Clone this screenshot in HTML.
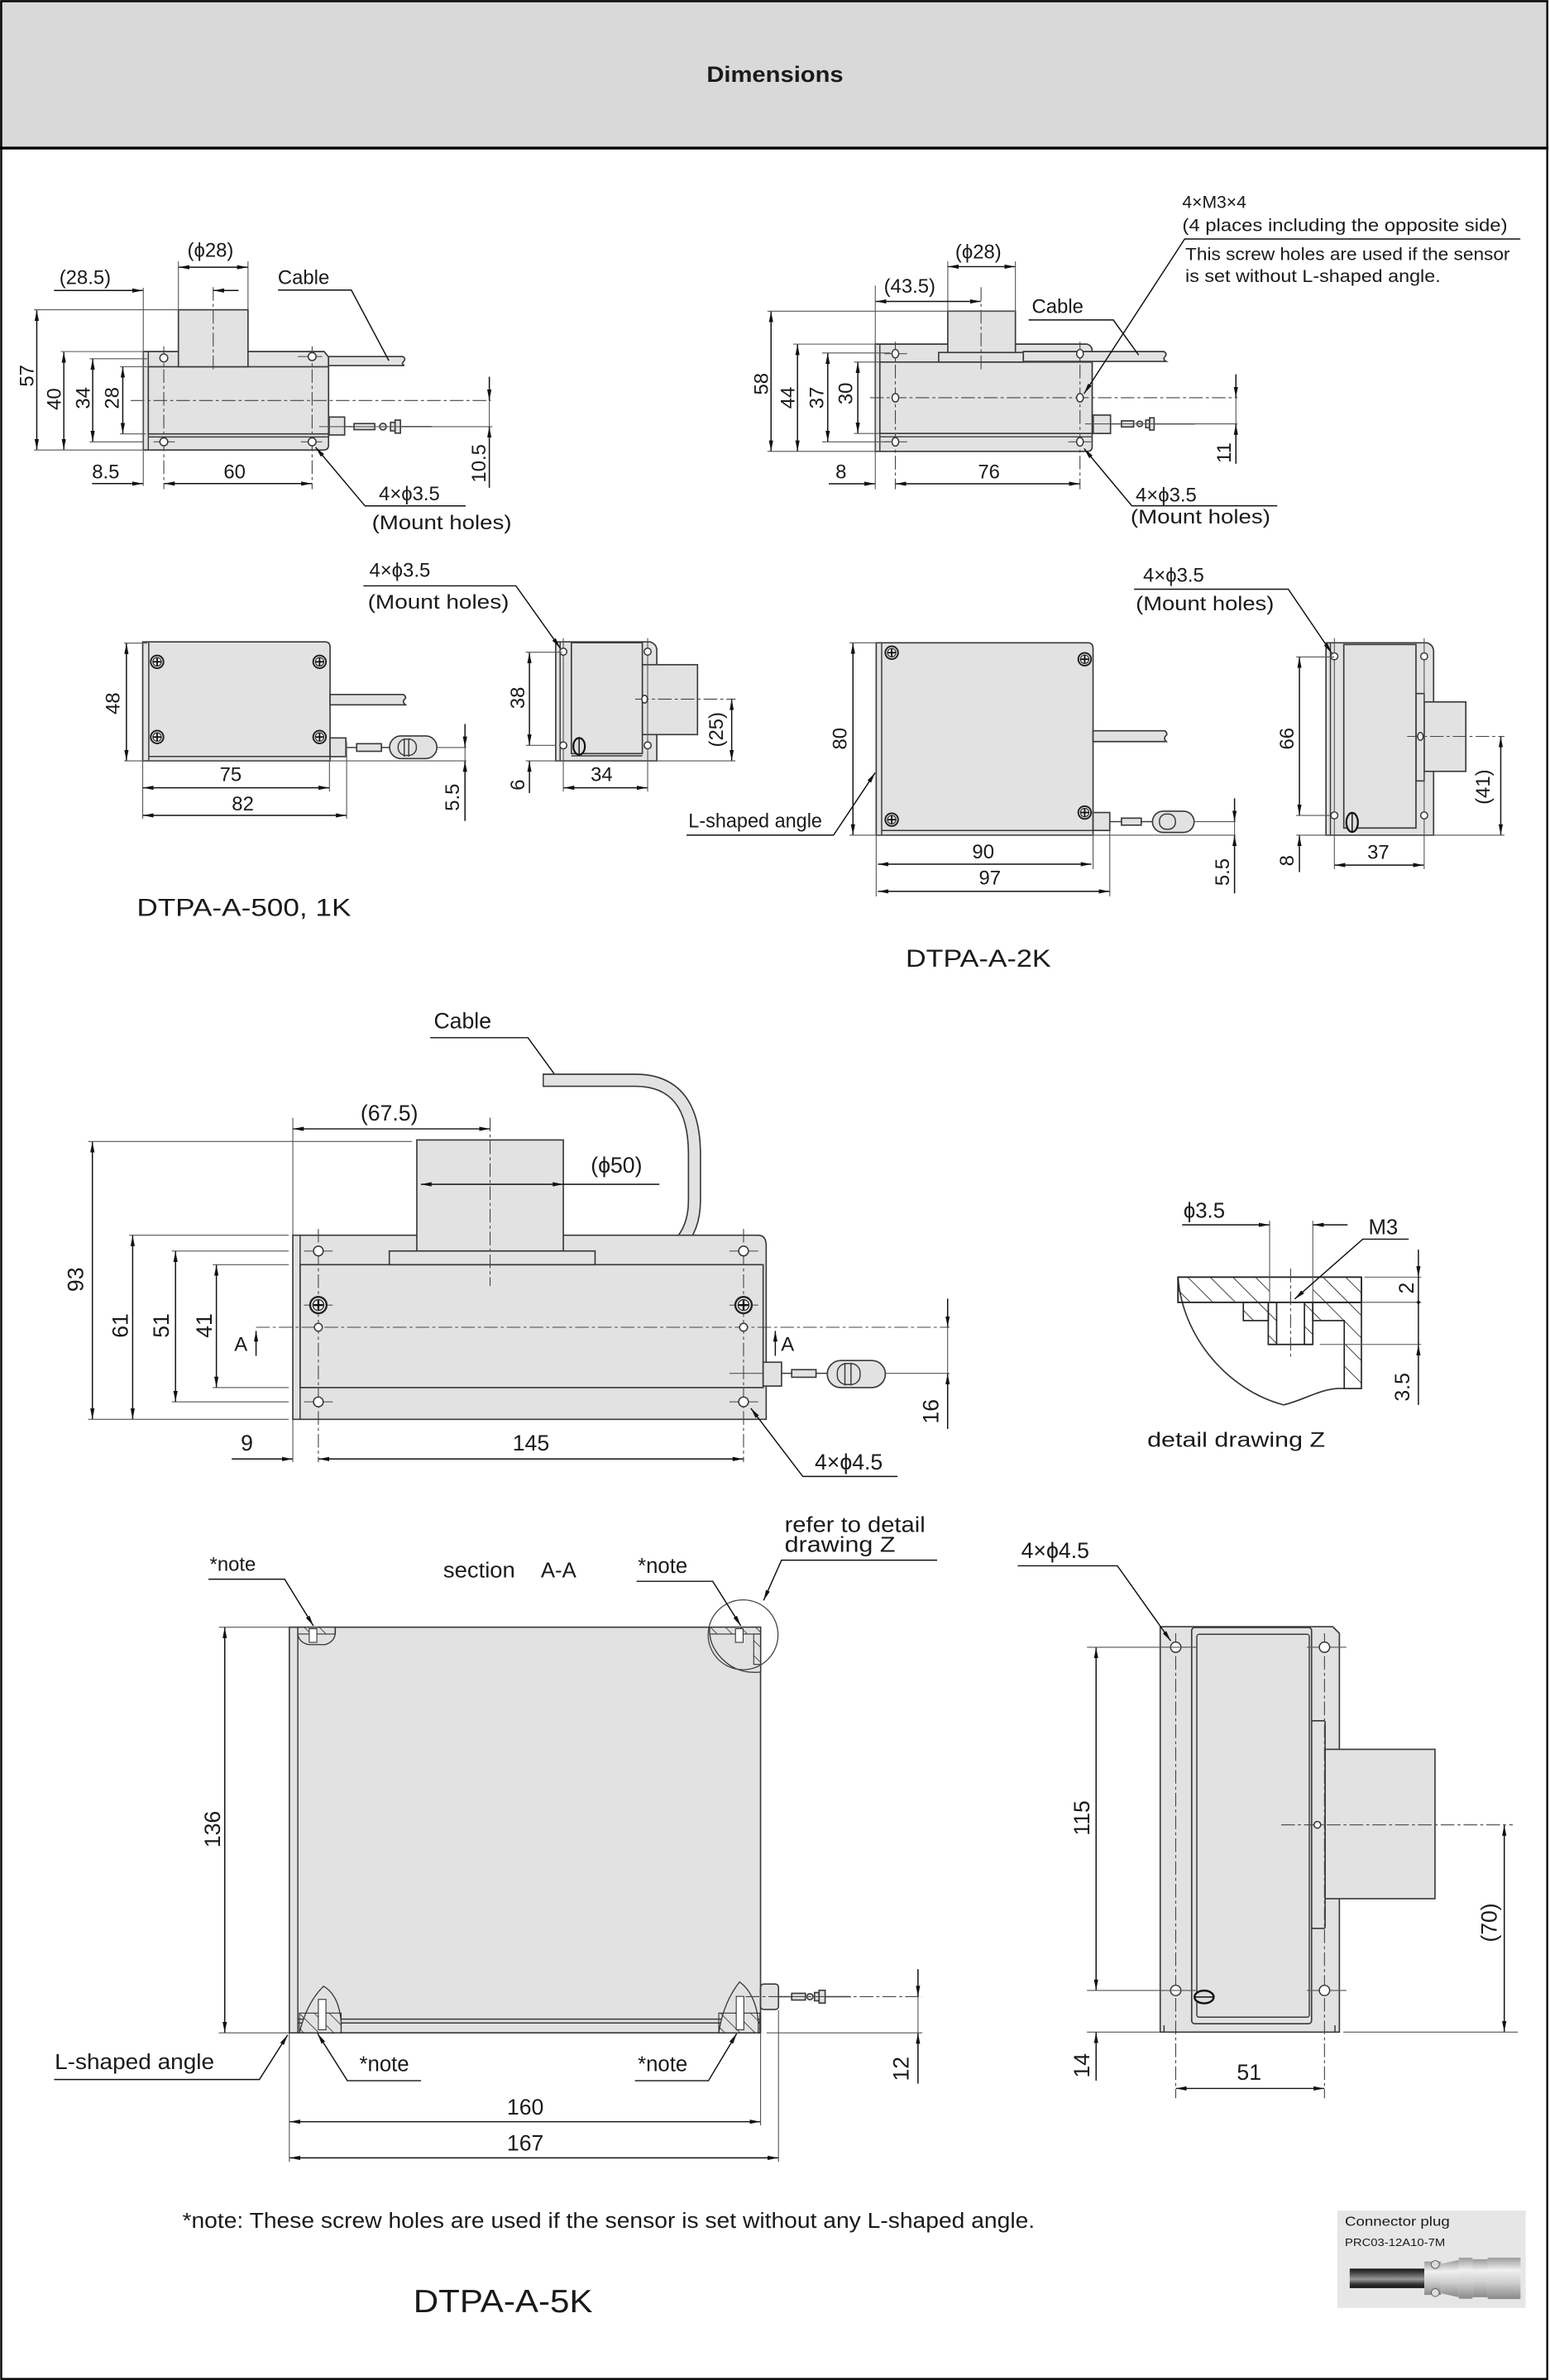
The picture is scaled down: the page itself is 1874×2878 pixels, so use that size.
<!DOCTYPE html>
<html><head><meta charset="utf-8"><style>
html,body{margin:0;padding:0;background:#fff}
svg{display:block}
</style></head><body>
<svg xmlns="http://www.w3.org/2000/svg" width="1874" height="2878" viewBox="0 0 1020 1566.5" preserveAspectRatio="none">
<defs>
<marker id="a" viewBox="0 0 10 4" refX="10" refY="2" markerWidth="7" markerHeight="2.8" markerUnits="userSpaceOnUse" orient="auto-start-reverse"><path d="M0,0 L10,2 L0,4 z" fill="#111"/></marker>
<pattern id="hp" width="7" height="7" patternUnits="userSpaceOnUse" patternTransform="rotate(-45)"><line x1="0" y1="0" x2="0" y2="7" stroke="#333" stroke-width="0.9"/></pattern>
<pattern id="hz" width="10.5" height="10.5" patternUnits="userSpaceOnUse" patternTransform="rotate(-45)"><line x1="0" y1="0" x2="0" y2="10.5" stroke="#333" stroke-width="1"/></pattern>
<g id="scr"><circle r="4.2" fill="#f4f4f4" stroke="#222" stroke-width="1.1"/><circle r="2.8" fill="none" stroke="#222" stroke-width="0.6"/><line x1="-2.6" y1="0" x2="2.6" y2="0" stroke="#111" stroke-width="1"/><line x1="0" y1="-2.6" x2="0" y2="2.6" stroke="#111" stroke-width="1"/></g>
<g id="scr2"><circle r="5.4" fill="#f4f4f4" stroke="#222" stroke-width="1.3"/><circle r="3.6" fill="none" stroke="#222" stroke-width="0.7"/><line x1="-3.2" y1="0" x2="3.2" y2="0" stroke="#111" stroke-width="1.3"/><line x1="0" y1="-3.2" x2="0" y2="3.2" stroke="#111" stroke-width="1.3"/></g>
<linearGradient id="gc" x1="0" y1="0" x2="0" y2="1"><stop offset="0" stop-color="#111"/><stop offset=".35" stop-color="#666"/><stop offset=".55" stop-color="#999"/><stop offset=".8" stop-color="#333"/><stop offset="1" stop-color="#111"/></linearGradient>
<linearGradient id="gm" x1="0" y1="0" x2="0" y2="1"><stop offset="0" stop-color="#9a9a9a"/><stop offset=".3" stop-color="#f0f0f0"/><stop offset=".6" stop-color="#cfcfcf"/><stop offset="1" stop-color="#8a8a8a"/></linearGradient>
</defs>
<style>
.o{fill:#e2e2e2;stroke:#3a3a3a;stroke-width:.9}
.l{fill:none;stroke:#3a3a3a;stroke-width:.8}
.e{fill:none;stroke:#555;stroke-width:.6}
.d{fill:none;stroke:#111;stroke-width:.8}
.c{fill:none;stroke:#444;stroke-width:.6;stroke-dasharray:9 2 2 2}
.h{fill:#fff;stroke:#333;stroke-width:.8}
.ae{marker-end:url(#a)}
.ab{marker-start:url(#a);marker-end:url(#a)}
text{font-family:"Liberation Sans",sans-serif;fill:#1a1a1a}
.t{font-size:13px}
.u{font-size:14.5px}
.m{text-anchor:middle;dominant-baseline:central}
.s{dominant-baseline:central}
</style>

<!-- frame & header -->
<rect x="0.8" y="0.8" width="1017.4" height="1565" fill="#fff" stroke="#000" stroke-width="1.3"/>
<rect x="0.8" y="0.8" width="1017.4" height="96.4" fill="#d9d9d9" stroke="#000" stroke-width="1.3"/>
<line x1="0" y1="97.5" x2="1019" y2="97.5" stroke="#000" stroke-width="1.8"/>
<text x="510" y="49" class="m" font-weight="bold" font-size="14.5" textLength="90" lengthAdjust="spacingAndGlyphs">Dimensions</text>

<!-- ===== 1K front ===== -->
<path class="o" d="M94.3,231.4 H213.3 L216.2,235 V293 Q216.2,296.2 213,296.2 H94.3 Z"/>
<line class="l" x1="97.6" y1="231.4" x2="97.6" y2="296.2"/>
<rect class="o" x="97.6" y="241.4" width="118.6" height="44.2"/>
<line class="l" x1="97.6" y1="287.6" x2="216.2" y2="287.6"/>
<rect class="o" x="117.4" y="203.9" width="45.8" height="37.5"/>
<path class="o" d="M216.2,234.7 H265 Q267.5,236 265.5,238 Q264,239.6 266,240.6 H216.2 Z"/>
<line class="c" x1="107.8" y1="228" x2="107.8" y2="322"/>
<line class="c" x1="205.4" y1="228" x2="205.4" y2="322"/>
<line class="c" x1="140.3" y1="189" x2="140.3" y2="245"/>
<line class="c" x1="86" y1="263.6" x2="323" y2="263.6"/>
<line class="e" x1="101" y1="290.8" x2="115" y2="290.8"/><line class="e" x1="198" y1="290.8" x2="212" y2="290.8"/>
<line class="e" x1="196" y1="234.7" x2="212" y2="234.7"/>
<circle class="h" cx="107.8" cy="235.6" r="2.6"/><circle class="h" cx="205.4" cy="234.7" r="2.6"/>
<circle class="h" cx="107.8" cy="290.8" r="2.6"/><circle class="h" cx="205.4" cy="290.8" r="2.6"/>
<rect class="o" x="216.6" y="274.5" width="10.2" height="11.8"/>
<line class="l" x1="226.8" y1="280.8" x2="233" y2="280.8"/>
<rect class="o" x="233" y="278.8" width="13.6" height="4"/>
<circle class="o" cx="252" cy="280.8" r="2.2"/>
<rect class="o" x="257" y="278" width="3" height="5.6"/><rect class="o" x="260" y="276.5" width="3.5" height="8.6"/>
<line class="l" x1="263.5" y1="280.8" x2="284" y2="280.8"/>
<line class="e" x1="210" y1="280.8" x2="324" y2="280.8"/>
<!-- dims -->
<line class="e" x1="22.4" y1="203.9" x2="117.4" y2="203.9"/>
<line class="e" x1="22.4" y1="296.2" x2="94.3" y2="296.2"/>
<line class="e" x1="40" y1="231.4" x2="94.3" y2="231.4"/>
<line class="e" x1="59" y1="236.1" x2="97" y2="236.1"/>
<line class="e" x1="59" y1="290.8" x2="94.3" y2="290.8"/>
<line class="e" x1="79" y1="241.4" x2="97.6" y2="241.4"/>
<line class="e" x1="79" y1="285.6" x2="96" y2="285.6"/>
<line class="d ab" x1="24.2" y1="204.2" x2="24.2" y2="295.9"/>
<line class="d ab" x1="42" y1="231.7" x2="42" y2="295.9"/>
<line class="d ab" x1="61" y1="236.3" x2="61" y2="290.6"/>
<line class="d ab" x1="80.8" y1="241.6" x2="80.8" y2="285.4"/>
<text class="t m" transform="translate(18,247.3) rotate(-90)">57</text>
<text class="t m" transform="translate(36,262.7) rotate(-90)">40</text>
<text class="t m" transform="translate(55,262) rotate(-90)">34</text>
<text class="t m" transform="translate(74,262) rotate(-90)">28</text>
<line class="e" x1="117.4" y1="172" x2="117.4" y2="204"/>
<line class="e" x1="163.2" y1="172" x2="163.2" y2="204"/>
<line class="d ab" x1="117.6" y1="175.9" x2="163" y2="175.9"/>
<text class="t m" x="138.5" y="165">(ϕ28)</text>
<line class="e" x1="94.3" y1="189.4" x2="94.3" y2="319.8"/>
<line class="d ae" x1="35.5" y1="191.2" x2="94" y2="191.2"/>
<line class="d ae" x1="157" y1="191.2" x2="140.5" y2="191.2"/>
<text class="t m" x="56" y="183">(28.5)</text>
<polyline class="d" points="255.9,237.4 231.2,190.9 183,190.9"/>
<text class="t m" x="199.8" y="183">Cable</text>
<line class="d ae" x1="60.6" y1="318.3" x2="94" y2="318.3"/>
<line class="d ab" x1="108" y1="318.3" x2="205.2" y2="318.3"/>
<text class="t m" x="69.6" y="310.7">8.5</text>
<text class="t m" x="154.4" y="310.7">60</text>
<polyline class="d ae" points="306.4,333 240.2,333 207.7,294.4"/>
<text class="t m" x="269.4" y="325.2">4×ϕ3.5</text>
<text class="t m" x="290.7" y="344.2" textLength="92" lengthAdjust="spacingAndGlyphs">(Mount holes)</text>
<line class="e" x1="322" y1="248" x2="322" y2="321"/>
<line class="d ae" x1="322" y1="248" x2="322" y2="263.4"/>
<line class="d ae" x1="322" y1="321" x2="322" y2="281"/>
<text class="t m" transform="translate(315.4,305) rotate(-90)">10.5</text>

<!-- ===== 2K front ===== -->
<path class="o" d="M576,226.5 H715.5 Q718.7,227.5 718.7,231 V294 Q718.7,297.1 715.5,297.1 H576 Z"/>
<line class="l" x1="579" y1="226.5" x2="579" y2="297.1"/>
<rect class="o" x="579" y="238.3" width="139.7" height="47"/>
<line class="l" x1="579" y1="287.5" x2="718.7" y2="287.5"/>
<path class="o" d="M673.4,231.4 H766 Q768.5,233 766.5,234.8 Q765,236.5 767.4,237.9 H673.4 Z"/>
<rect class="o" x="617.7" y="232" width="55.7" height="6.3"/>
<rect class="o" x="623.7" y="204.8" width="44.5" height="27.2"/>
<line class="c" x1="589.2" y1="225" x2="589.2" y2="322"/>
<line class="c" x1="710.7" y1="225" x2="710.7" y2="322"/>
<line class="c" x1="645.6" y1="189" x2="645.6" y2="245"/>
<line class="c" x1="572.5" y1="261.8" x2="814.4" y2="261.8"/>
<line class="e" x1="582" y1="232.8" x2="597" y2="232.8"/><line class="e" x1="582" y1="290.8" x2="597" y2="290.8"/>
<line class="e" x1="703" y1="290.8" x2="718" y2="290.8"/>
<ellipse class="h" cx="589.2" cy="232.8" rx="2.2" ry="2.8"/><ellipse class="h" cx="710.7" cy="232.8" rx="2.2" ry="2.8"/>
<ellipse class="h" cx="589.2" cy="261.8" rx="2.2" ry="2.8"/><ellipse class="h" cx="710.7" cy="261.8" rx="2.2" ry="2.8"/>
<ellipse class="h" cx="589.2" cy="290.8" rx="2.2" ry="2.8"/><ellipse class="h" cx="710.7" cy="290.8" rx="2.2" ry="2.8"/>
<rect class="o" x="719.4" y="273.2" width="11.4" height="12.1"/>
<line class="l" x1="730.8" y1="279" x2="738" y2="279"/>
<rect class="o" x="738" y="277" width="8" height="4"/>
<circle class="o" cx="750" cy="279" r="1.8"/>
<rect class="o" x="754" y="276.5" width="2.5" height="5"/><rect class="o" x="756.5" y="275" width="3" height="8"/>
<line class="l" x1="759.5" y1="279" x2="786.5" y2="279"/>
<line class="e" x1="714" y1="279" x2="814.4" y2="279"/>
<line class="e" x1="505" y1="204.8" x2="668" y2="204.8"/>
<line class="e" x1="505" y1="297.1" x2="576" y2="297.1"/>
<line class="e" x1="522" y1="226.5" x2="576" y2="226.5"/>
<line class="e" x1="541" y1="232.3" x2="586" y2="232.3"/>
<line class="e" x1="541" y1="290.8" x2="586" y2="290.8"/>
<line class="e" x1="562" y1="238.3" x2="579" y2="238.3"/>
<line class="e" x1="562" y1="285.3" x2="579" y2="285.3"/>
<line class="d ab" x1="507.4" y1="205" x2="507.4" y2="296.9"/>
<line class="d ab" x1="524.8" y1="226.7" x2="524.8" y2="296.9"/>
<line class="d ab" x1="544.7" y1="232.5" x2="544.7" y2="290.6"/>
<line class="d ab" x1="564.5" y1="238.5" x2="564.5" y2="285.1"/>
<text class="t m" transform="translate(501.2,252.7) rotate(-90)">58</text>
<text class="t m" transform="translate(518.6,261.8) rotate(-90)">44</text>
<text class="t m" transform="translate(537.7,261.8) rotate(-90)">37</text>
<text class="t m" transform="translate(556.8,259) rotate(-90)">30</text>
<line class="e" x1="623.7" y1="172" x2="623.7" y2="205"/>
<line class="e" x1="668.2" y1="172" x2="668.2" y2="205"/>
<line class="d ab" x1="623.9" y1="175.5" x2="668" y2="175.5"/>
<text class="t m" x="643.8" y="165.9">(ϕ28)</text>
<line class="e" x1="576" y1="188" x2="576" y2="322"/>
<line class="d ab" x1="576.3" y1="198.4" x2="645.4" y2="198.4"/>
<text class="t m" x="598.6" y="188.5">(43.5)</text>
<polyline class="d" points="749.3,233.7 732.6,210.6 676.9,210.6"/>
<text class="t m" x="696" y="202">Cable</text>
<line class="d ae" x1="545.4" y1="318.4" x2="575.8" y2="318.4"/>
<line class="d ab" x1="589.4" y1="318.4" x2="710.5" y2="318.4"/>
<text class="t m" x="553.4" y="310.7">8</text>
<text class="t m" x="650.8" y="310.7">76</text>
<line class="e" x1="813.3" y1="246.4" x2="813.3" y2="305.2"/>
<line class="d ae" x1="813.3" y1="246.4" x2="813.3" y2="261.6"/>
<line class="d ae" x1="813.3" y1="305.2" x2="813.3" y2="279.2"/>
<text class="t m" transform="translate(805.7,298) rotate(-90)">11</text>
<polyline class="d ae" points="840.5,332.9 744.8,332.9 713.4,295.3"/>
<text class="t m" x="767.4" y="326">4×ϕ3.5</text>
<text class="t m" x="790" y="340.5" textLength="92" lengthAdjust="spacingAndGlyphs">(Mount holes)</text>
<polyline class="d ae" points="1000.5,157.3 779.6,157.3 713.4,259.1"/>
<text class="s" x="778" y="133.3" font-size="11.5">4×M3×4</text>
<text class="s" x="778" y="148.7" font-size="11.5" textLength="214" lengthAdjust="spacingAndGlyphs">(4 places including the opposite side)</text>
<text class="s" x="780" y="167.7" font-size="11.5" textLength="213.6" lengthAdjust="spacingAndGlyphs">This screw holes are used if the sensor</text>
<text class="s" x="780" y="182.1" font-size="11.5" textLength="168" lengthAdjust="spacingAndGlyphs">is set without L-shaped angle.</text>

<!-- ===== 1K top ===== -->
<path class="o" d="M93.9,422.5 H214 Q217.2,422.5 217.2,426 V500.8 H93.9 Z"/>
<line class="l" x1="97.9" y1="422.5" x2="97.9" y2="500.8"/>
<line class="l" x1="97.9" y1="497.9" x2="217.2" y2="497.9"/>
<use href="#scr" x="103.4" y="435.6"/><use href="#scr" x="210.3" y="435.6"/>
<use href="#scr" x="103.4" y="485.1"/><use href="#scr" x="210.3" y="485.1"/>
<path class="o" d="M217.2,457.1 H265.5 Q268,459 266,460.5 Q264.5,462 266.8,463.9 H217.2 Z"/>
<rect class="o" x="217.2" y="485.7" width="10.4" height="12.3"/>
<line class="l" x1="227.6" y1="492" x2="234.7" y2="492"/>
<rect class="o" x="234.7" y="489.5" width="16.3" height="5"/>
<line class="l" x1="251" y1="492" x2="256.4" y2="492"/>
<rect class="o" x="256.4" y="484.4" width="31.1" height="14.9" rx="7.4"/>
<rect class="l" x="262" y="486.5" width="12" height="10.7" rx="5"/>
<line class="l" x1="266" y1="486" x2="266" y2="498"/><line class="l" x1="269" y1="486" x2="269" y2="498"/>
<line class="e" x1="287.5" y1="492" x2="306.9" y2="492"/>
<line class="e" x1="81.7" y1="500.8" x2="306.9" y2="500.8"/>
<line class="e" x1="81.7" y1="423.3" x2="97" y2="423.3"/>
<line class="d ab" x1="83.2" y1="423.5" x2="83.2" y2="500.6"/>
<text class="t m" transform="translate(74.6,463) rotate(-90)">48</text>
<line class="e" x1="93.9" y1="500.8" x2="93.9" y2="539"/>
<line class="e" x1="216.8" y1="500.8" x2="216.8" y2="521"/>
<line class="e" x1="228.1" y1="488" x2="228.1" y2="539"/>
<line class="d ab" x1="94.1" y1="518.5" x2="216.6" y2="518.5"/>
<line class="d ab" x1="94.1" y1="536.7" x2="227.9" y2="536.7"/>
<text class="t m" x="151.8" y="509.9">75</text>
<text class="t m" x="159.8" y="529.4">82</text>
<line class="e" x1="306" y1="476.6" x2="306" y2="540.3"/>
<line class="d ae" x1="306" y1="476.6" x2="306" y2="491.8"/>
<line class="d ae" x1="306" y1="540.3" x2="306" y2="501"/>
<text class="t m" transform="translate(298,524.8) rotate(-90)">5.5</text>

<!-- 1K side -->
<path class="o" d="M365.7,422.5 H428 Q432.2,424 432.2,428 V500.8 H365.7 Z"/>
<rect class="o" x="422.7" y="437.5" width="36.3" height="46"/>
<rect class="o" x="376" y="423" width="46.7" height="73"/>
<line class="l" x1="368.6" y1="422.5" x2="368.6" y2="500.8"/>
<line class="l" x1="376" y1="497.5" x2="422.7" y2="497.5"/>
<line class="c" x1="418" y1="460.2" x2="484" y2="460.2"/>
<line class="e" x1="370.7" y1="420" x2="370.7" y2="521"/>
<line class="e" x1="426.2" y1="420" x2="426.2" y2="521"/>
<circle class="h" cx="370.7" cy="428.9" r="2.3"/><circle class="h" cx="426.2" cy="428.9" r="2.3"/>
<circle class="h" cx="370.7" cy="490.6" r="2.3"/><circle class="h" cx="426.2" cy="490.6" r="2.3"/>
<ellipse class="h" cx="424.2" cy="460.2" rx="1.8" ry="2.6"/>
<ellipse cx="381.1" cy="491.2" rx="3.8" ry="5.5" fill="#ddd" stroke="#111" stroke-width="1.2"/>
<line x1="381.1" y1="485.5" x2="381.1" y2="497" stroke="#111" stroke-width=".8"/>
<line class="e" x1="346" y1="429.3" x2="370" y2="429.3"/>
<line class="e" x1="346" y1="490.6" x2="366" y2="490.6"/>
<line class="e" x1="346" y1="500.8" x2="484" y2="500.8"/>
<line class="d ab" x1="348.4" y1="429.5" x2="348.4" y2="490.4"/>
<text class="t m" transform="translate(341,459.3) rotate(-90)">38</text>
<line class="d ae" x1="348.4" y1="522" x2="348.4" y2="501"/>
<text class="t m" transform="translate(341,516.6) rotate(-90)">6</text>
<line class="d ab" x1="370.9" y1="518.5" x2="426" y2="518.5"/>
<text class="t m" x="395.9" y="509.9">34</text>
<line class="d ab" x1="481.5" y1="460.4" x2="481.5" y2="500.6"/>
<text class="t m" transform="translate(471.7,480.2) rotate(-90)">(25)</text>
<polyline class="d ae" points="239.1,385.6 339.5,385.6 368.6,426.5"/>
<text class="t s" x="243" y="375.6">4×ϕ3.5</text>
<text class="t s" x="242" y="396.5" textLength="93" lengthAdjust="spacingAndGlyphs">(Mount holes)</text>
<text class="s" x="90" y="597.6" font-size="16" textLength="141" lengthAdjust="spacingAndGlyphs">DTPA-A-500, 1K</text>

<!-- ===== 2K top ===== -->
<path class="o" d="M576.6,423.1 H716 Q719.3,423.1 719.3,427 V549.7 H576.6 Z"/>
<line class="l" x1="580.2" y1="423.1" x2="580.2" y2="549.7"/>
<line class="l" x1="580.2" y1="546.6" x2="719.3" y2="546.6"/>
<use href="#scr" x="586.8" y="429.6"/><use href="#scr" x="713.8" y="433.9"/>
<use href="#scr" x="586.8" y="539.5"/><use href="#scr" x="713.8" y="534.8"/>
<path class="o" d="M719.3,481 H766.5 Q769,483 767,484.5 Q765.5,486 767.5,488.1 H719.3 Z"/>
<rect class="o" x="719.3" y="534.8" width="11" height="11.8"/>
<line class="l" x1="730.3" y1="540.8" x2="738" y2="540.8"/>
<rect class="o" x="738" y="538.5" width="13" height="4.6"/>
<line class="l" x1="751" y1="540.8" x2="758.4" y2="540.8"/>
<rect class="o" x="758.4" y="533.9" width="27.4" height="14" rx="7"/>
<rect class="l" x="763" y="535.8" width="10.5" height="10" rx="4.5"/>
<line class="e" x1="785.8" y1="540.8" x2="813" y2="540.8"/>
<line class="e" x1="559" y1="549.7" x2="813" y2="549.7"/>
<line class="e" x1="559" y1="423.1" x2="576.6" y2="423.1"/>
<line class="d ab" x1="561.3" y1="423.3" x2="561.3" y2="549.5"/>
<text class="t m" transform="translate(552.9,486.2) rotate(-90)">80</text>
<polyline class="d ae" points="451.8,549.7 548.5,549.7 575.9,508.6"/>
<text class="t s" x="453" y="540.4" textLength="88" lengthAdjust="spacingAndGlyphs">L-shaped angle</text>
<line class="e" x1="576.6" y1="549.7" x2="576.6" y2="590"/>
<line class="e" x1="719.3" y1="549.7" x2="719.3" y2="572"/>
<line class="e" x1="730.3" y1="546" x2="730.3" y2="590"/>
<line class="d ab" x1="577.7" y1="568.8" x2="718.2" y2="568.8"/>
<line class="d ab" x1="577.7" y1="586.7" x2="730.1" y2="586.7"/>
<text class="t m" x="647" y="561">90</text>
<text class="t m" x="651.4" y="578.1">97</text>
<line class="e" x1="812.4" y1="525.5" x2="812.4" y2="588"/>
<line class="d ae" x1="812.4" y1="525.5" x2="812.4" y2="540.6"/>
<line class="d ae" x1="812.4" y1="588" x2="812.4" y2="549.9"/>
<text class="t m" transform="translate(804.7,574) rotate(-90)">5.5</text>

<!-- 2K side -->
<path class="o" d="M872.6,423.1 H939 Q943.4,424.5 943.4,429 V549.7 H872.6 Z"/>
<rect class="o" x="937.2" y="462" width="27.4" height="45.7"/>
<rect class="o" x="931.8" y="456.5" width="5.4" height="57.5"/>
<rect class="o" x="884.3" y="424.2" width="47.5" height="120.8"/>
<line class="l" x1="875.5" y1="423.1" x2="875.5" y2="549.7"/>
<line class="c" x1="926" y1="484.7" x2="990" y2="484.7"/>
<line class="e" x1="878.1" y1="420" x2="878.1" y2="572"/>
<line class="e" x1="937.2" y1="420" x2="937.2" y2="572"/>
<circle class="h" cx="878.1" cy="432" r="2.3"/><circle class="h" cx="937.2" cy="432" r="2.3"/>
<circle class="h" cx="878.1" cy="536.7" r="2.3"/><circle class="h" cx="937.2" cy="536.7" r="2.3"/>
<ellipse class="h" cx="934.7" cy="484.7" rx="1.8" ry="2.6"/>
<ellipse cx="889.8" cy="541.3" rx="3.8" ry="6.3" fill="#ddd" stroke="#111" stroke-width="1.2"/>
<line x1="889.8" y1="535" x2="889.8" y2="548" stroke="#111" stroke-width=".8"/>
<line class="e" x1="853" y1="432.4" x2="878" y2="432.4"/>
<line class="e" x1="853" y1="536.7" x2="875" y2="536.7"/>
<line class="e" x1="853" y1="549.7" x2="990" y2="549.7"/>
<line class="d ab" x1="855.1" y1="432.6" x2="855.1" y2="536.5"/>
<text class="t m" transform="translate(847.1,486.2) rotate(-90)">66</text>
<line class="d ae" x1="855.1" y1="574" x2="855.1" y2="549.9"/>
<text class="t m" transform="translate(847.1,566.5) rotate(-90)">8</text>
<line class="d ab" x1="878.3" y1="569.4" x2="936.9" y2="569.4"/>
<text class="t m" x="907" y="561.3">37</text>
<line class="d ab" x1="987.6" y1="484.9" x2="987.6" y2="549.5"/>
<text class="t m" transform="translate(976.3,518) rotate(-90)">(41)</text>
<polyline class="d ae" points="746.3,387.8 847.8,387.8 876.3,429.8"/>
<text class="t s" x="752.2" y="378.8">4×ϕ3.5</text>
<text class="t s" x="747.4" y="397.5" textLength="91" lengthAdjust="spacingAndGlyphs">(Mount holes)</text>
<text class="s" x="596" y="631" font-size="16" textLength="95.6" lengthAdjust="spacingAndGlyphs">DTPA-A-2K</text>

<!-- ===== 5K top ===== -->
<polyline class="d" points="283.1,683 347.4,683 367.5,710.6"/>
<text class="u m" x="304.4" y="671.9">Cable</text>
<path d="M357.5,711 H418 Q457,711 457,760 V790 Q457,828 413,832" fill="none" stroke="#3a3a3a" stroke-width="8.8"/>
<path d="M357.5,711 H418 Q457,711 457,760 V790 Q457,828 413,832" fill="none" stroke="#e2e2e2" stroke-width="7"/>
<line class="l" x1="357.5" y1="706.6" x2="357.5" y2="715.4"/>
<line class="e" x1="192.7" y1="735.7" x2="192.7" y2="962.4"/>
<line class="d ab" x1="192.9" y1="743" x2="322.3" y2="743"/>
<text class="u m" x="256.2" y="732.5">(67.5)</text>
<path class="o" d="M192.7,813 H499 Q504.2,813 504.2,820 V934.2 H192.7 Z"/>
<line class="l" x1="197.5" y1="813" x2="197.5" y2="934.2"/>
<rect class="o" x="197.5" y="832.4" width="304.7" height="80.9"/>
<rect class="o" x="274.3" y="750.3" width="96.4" height="73.1"/>
<rect class="o" x="256.2" y="823.4" width="135.4" height="9"/>
<line class="c" x1="322.5" y1="735.7" x2="322.5" y2="846.4"/>
<line class="d ab" x1="277" y1="779.5" x2="370.7" y2="779.5"/>
<line class="d" x1="370.7" y1="779.5" x2="433.9" y2="779.5"/>
<text class="u m" x="405.7" y="767">(ϕ50)</text>
<line class="c" x1="209.5" y1="808.8" x2="209.5" y2="962.4"/>
<line class="c" x1="489.3" y1="808.8" x2="489.3" y2="962.4"/>
<line class="c" x1="168.5" y1="873.6" x2="624.8" y2="873.6"/>
<line class="e" x1="200" y1="823.4" x2="219" y2="823.4"/><line class="e" x1="480" y1="823.4" x2="499" y2="823.4"/>
<line class="e" x1="200" y1="859" x2="219" y2="859"/><line class="e" x1="480" y1="859" x2="499" y2="859"/>
<line class="e" x1="200" y1="922.7" x2="219" y2="922.7"/><line class="e" x1="480" y1="922.7" x2="499" y2="922.7"/>
<circle class="h" cx="209.5" cy="823.4" r="3.2"/><circle class="h" cx="489.3" cy="823.4" r="3.2"/>
<circle class="h" cx="209.5" cy="873.6" r="2.6"/><circle class="h" cx="489.3" cy="873.6" r="2.6"/>
<circle class="h" cx="209.5" cy="922.7" r="3.2"/><circle class="h" cx="489.3" cy="922.7" r="3.2"/>
<use href="#scr2" x="209.5" y="859"/><use href="#scr2" x="489.3" y="859"/>
<text class="t m" x="158.5" y="885">A</text>
<line class="d ae" x1="168.5" y1="892.4" x2="168.5" y2="876"/>
<text class="t m" x="518.3" y="885">A</text>
<line class="d ae" x1="510.2" y1="892.4" x2="510.2" y2="876"/>
<rect class="o" x="502.2" y="896.6" width="12.1" height="15.7"/>
<line class="l" x1="514.3" y1="903.9" x2="521" y2="903.9"/>
<rect class="o" x="521" y="901.5" width="16" height="5"/>
<line class="l" x1="537" y1="903.9" x2="544.4" y2="903.9"/>
<rect class="o" x="544.4" y="895.5" width="38.2" height="17.8" rx="8.9"/>
<rect class="l" x="551" y="897.5" width="15" height="13.8" rx="6"/>
<line class="l" x1="556" y1="897" x2="556" y2="912"/><line class="l" x1="560" y1="897" x2="560" y2="912"/>
<line class="e" x1="480" y1="903.9" x2="502" y2="903.9"/>
<line class="e" x1="582.6" y1="903.9" x2="624.8" y2="903.9"/>
<line class="e" x1="623.6" y1="854.8" x2="623.6" y2="940.5"/>
<line class="d ae" x1="623.6" y1="854.8" x2="623.6" y2="873.4"/>
<line class="d ae" x1="623.6" y1="940.5" x2="623.6" y2="904.1"/>
<text class="u m" transform="translate(612.7,929) rotate(-90)">16</text>
<line class="e" x1="58" y1="751.3" x2="271" y2="751.3"/>
<line class="e" x1="58" y1="934.2" x2="190" y2="934.2"/>
<line class="e" x1="85" y1="813" x2="190" y2="813"/>
<line class="e" x1="113" y1="823.4" x2="190" y2="823.4"/>
<line class="e" x1="113" y1="922.7" x2="190" y2="922.7"/>
<line class="e" x1="140" y1="832.4" x2="190" y2="832.4"/>
<line class="e" x1="140" y1="913.3" x2="190" y2="913.3"/>
<line class="d ab" x1="60.8" y1="751.5" x2="60.8" y2="934"/>
<line class="d ab" x1="87.3" y1="813.2" x2="87.3" y2="934"/>
<line class="d ab" x1="115.5" y1="823.6" x2="115.5" y2="922.5"/>
<line class="d ab" x1="142.4" y1="832.6" x2="142.4" y2="913.1"/>
<text class="u m" transform="translate(49.9,842.2) rotate(-90)">93</text>
<text class="u m" transform="translate(79.3,872.5) rotate(-90)">61</text>
<text class="u m" transform="translate(106.2,872.5) rotate(-90)">51</text>
<text class="u m" transform="translate(134.4,872.5) rotate(-90)">41</text>
<line class="d ae" x1="152.5" y1="960.3" x2="192.5" y2="960.3"/>
<line class="d ab" x1="209.7" y1="960.3" x2="489.1" y2="960.3"/>
<text class="u m" x="162.5" y="949.9">9</text>
<text class="u m" x="349.4" y="949.9">145</text>
<polyline class="d ae" points="590.6,971.8 528.3,971.8 494.1,926.9"/>
<text class="u m" x="558.5" y="962.4">4×ϕ4.5</text>

<!-- ===== Detail Z ===== -->
<path d="M775.2,840.6 C778,880 808,915 844.7,924.7 C860,921 870,913 884.6,913.9" fill="none" stroke="#333" stroke-width=".9"/>
<rect x="775.2" y="840.6" width="60.3" height="16.6" fill="url(#hz)"/>
<rect x="863.9" y="840.6" width="32" height="16.6" fill="url(#hz)"/>
<rect x="775.2" y="840.6" width="120.7" height="16.6" fill="none" stroke="#222" stroke-width="1"/>
<rect x="818.2" y="857.2" width="16.4" height="12" fill="url(#hz)" stroke="#222" stroke-width=".9"/>
<rect x="834.6" y="857.2" width="5.5" height="27.7" fill="url(#hz)" stroke="#222" stroke-width=".9"/>
<rect x="858.4" y="857.2" width="5.5" height="27.7" fill="url(#hz)" stroke="#222" stroke-width=".9"/>
<path d="M863.9,857.2 H895.9 V913.9 H884.6 V869.2 H863.9 Z" fill="url(#hz)" stroke="#222" stroke-width=".9"/>
<line x1="834.6" y1="884.9" x2="863.9" y2="884.9" stroke="#222" stroke-width=".9"/>
<line class="c" x1="849.3" y1="835" x2="849.3" y2="895"/>
<line class="e" x1="835.5" y1="803.5" x2="835.5" y2="857"/>
<line class="e" x1="863.9" y1="803.5" x2="863.9" y2="857"/>
<line class="d ae" x1="777.9" y1="806.2" x2="835.3" y2="806.2"/>
<line class="d ae" x1="886.8" y1="806.2" x2="864.1" y2="806.2"/>
<text class="s" x="778.8" y="797.1" font-size="14">ϕ3.5</text>
<polyline class="d ae" points="927,815.6 896.8,815.6 852,855"/>
<text class="s" x="900.5" y="808" font-size="14">M3</text>
<line class="e" x1="897.8" y1="840.6" x2="935.3" y2="840.6"/>
<line class="e" x1="895.9" y1="857.2" x2="935.3" y2="857.2"/>
<line class="e" x1="868.5" y1="884.9" x2="935.3" y2="884.9"/>
<line class="d" x1="933.4" y1="840.6" x2="933.4" y2="884.9"/>
<line class="d ae" x1="933.4" y1="822.5" x2="933.4" y2="840.4"/>
<line class="d ae" x1="933.4" y1="924.7" x2="933.4" y2="885.1"/>
<circle cx="933.4" cy="857.2" r="1" fill="#111"/>
<text class="m" font-size="13.5" transform="translate(926.1,847.8) rotate(-90)">2</text>
<text class="m" font-size="13.5" transform="translate(923.4,913) rotate(-90)">3.5</text>
<text class="s" x="755" y="948.2" font-size="13.5" textLength="117" lengthAdjust="spacingAndGlyphs">detail drawing  Z</text>

<!-- ===== Section A-A ===== -->
<rect class="o" x="190.4" y="1071" width="310.1" height="267"/>
<line class="l" x1="196" y1="1071" x2="196" y2="1338"/>
<line class="l" x1="196" y1="1329" x2="500.5" y2="1329"/>
<line class="l" x1="196" y1="1331.5" x2="500.5" y2="1331.5"/>
<!-- corners -->
<path d="M196,1071 H220.5 Q222,1080 214,1082.5 H203 Q197,1081 196,1076 Z" fill="#e2e2e2" stroke="#333" stroke-width=".7"/>
<rect x="196" y="1071" width="24.5" height="4.5" fill="url(#hp)" stroke="#333" stroke-width=".6"/>
<rect x="203.5" y="1072" width="5" height="9" fill="#fff" stroke="#333" stroke-width=".6"/>
<path d="M467,1071 H500.5 V1100.5 Q487,1102 477.5,1094 Q466,1084 467,1071 Z" fill="#e2e2e2" stroke="#333" stroke-width=".7"/>
<rect x="467" y="1071" width="33.5" height="4.5" fill="url(#hp)" stroke="#333" stroke-width=".6"/>
<rect x="496" y="1075.5" width="4.5" height="20" fill="url(#hp)" stroke="#333" stroke-width=".6"/>
<rect x="484" y="1072" width="5" height="9" fill="#fff" stroke="#333" stroke-width=".6"/>
<circle cx="489" cy="1076" r="23" fill="none" stroke="#444" stroke-width=".7"/>
<path d="M197,1338 Q202,1318 212.9,1307.3 Q223,1313 224.5,1331 V1338 Z" fill="#e2e2e2" stroke="#333" stroke-width=".7"/>
<rect x="197" y="1325" width="27.5" height="13" fill="url(#hp)" stroke="#333" stroke-width=".6"/>
<rect x="209.5" y="1316" width="5" height="20" fill="#fff" stroke="#333" stroke-width=".6"/>
<path d="M473,1338 Q476,1318 486.7,1304.5 Q497,1312 499,1330 V1338 Z" fill="#e2e2e2" stroke="#333" stroke-width=".7"/>
<rect x="473" y="1325" width="27" height="13" fill="url(#hp)" stroke="#333" stroke-width=".6"/>
<rect x="484.5" y="1314" width="5" height="22" fill="#fff" stroke="#333" stroke-width=".6"/>
<polyline class="d ae" points="137.2,1039.4 187.3,1039.4 206.2,1070.1"/>
<text class="t s" x="138" y="1029.7" font-size="14">*note</text>
<text class="s" x="291.7" y="1033.8" font-size="14" textLength="47.3" lengthAdjust="spacingAndGlyphs">section</text>
<text class="s" x="355.9" y="1033.8" font-size="14">A-A</text>
<polyline class="d ae" points="418.9,1040.8 469,1040.8 487.5,1070.1"/>
<text class="s" x="419.7" y="1031" font-size="14">*note</text>
<text class="s" x="516.3" y="1004" font-size="14" textLength="92.6" lengthAdjust="spacingAndGlyphs">refer to detail</text>
<text class="s" x="516.3" y="1017.1" font-size="14" textLength="72.9" lengthAdjust="spacingAndGlyphs">drawing  Z</text>
<polyline class="d ae" points="616.7,1026.9 514.3,1026.9 502.5,1053.4"/>
<line class="e" x1="144" y1="1071" x2="190" y2="1071"/>
<line class="e" x1="144" y1="1338" x2="190" y2="1338"/>
<line class="d ab" x1="147.9" y1="1071.2" x2="147.9" y2="1337.8"/>
<text class="u m" transform="translate(140,1204) rotate(-90)">136</text>
<polyline class="d ae" points="35.6,1368.7 170.7,1368.7 189.3,1339.4"/>
<text class="s" x="36" y="1357.5" font-size="14" textLength="105" lengthAdjust="spacingAndGlyphs">L-shaped angle</text>
<polyline class="d ae" points="277.1,1369.5 228.6,1369.5 209,1338.5"/>
<text class="s" x="236.5" y="1358.9" font-size="14">*note</text>
<polyline class="d ae" points="417.8,1369.5 466.2,1369.5 484.8,1338.5"/>
<text class="s" x="419.7" y="1358.9" font-size="14">*note</text>
<rect class="o" x="500.5" y="1305.9" width="11.8" height="16.7" rx="2"/>
<line class="l" x1="512.3" y1="1314.2" x2="521" y2="1314.2"/>
<rect class="o" x="521" y="1312" width="9" height="4.4"/>
<circle class="o" cx="533" cy="1314.2" r="2"/>
<rect class="o" x="536" y="1311.5" width="3" height="5.4"/><rect class="o" x="539" y="1310" width="4" height="8.4"/>
<line class="l" x1="543" y1="1314.2" x2="560" y2="1314.2"/>
<line class="c" x1="490.7" y1="1314.2" x2="606.9" y2="1314.2"/>
<line class="e" x1="504.5" y1="1338" x2="606.9" y2="1338"/>
<line class="e" x1="604.1" y1="1296.1" x2="604.1" y2="1371.4"/>
<line class="d ae" x1="604.1" y1="1296.1" x2="604.1" y2="1314"/>
<line class="d ae" x1="604.1" y1="1371.4" x2="604.1" y2="1338.2"/>
<text class="u m" transform="translate(593.1,1361.7) rotate(-90)">12</text>
<line class="e" x1="190.4" y1="1338" x2="190.4" y2="1423"/>
<line class="e" x1="500.5" y1="1338" x2="500.5" y2="1399"/>
<line class="e" x1="512.3" y1="1323" x2="512.3" y2="1423"/>
<line class="d ab" x1="190.6" y1="1396.5" x2="500.3" y2="1396.5"/>
<line class="d ab" x1="190.6" y1="1420.3" x2="512.1" y2="1420.3"/>
<text class="u m" x="345.7" y="1386.8">160</text>
<text class="u m" x="345.7" y="1410.5">167</text>

<!-- ===== 5K side ===== -->
<path class="o" d="M763.5,1070.7 H877 L881.4,1075 V1337.5 H763.5 Z"/>
<rect class="o" x="872" y="1151.4" width="72.3" height="98.3"/>
<rect class="o" x="863.1" y="1132.6" width="8.9" height="136.7" rx="1"/>
<rect class="o" x="784.2" y="1071.2" width="78.9" height="260.8" rx="2"/>
<rect class="l" x="787.6" y="1075.7" width="74" height="252" rx="1.5"/>
<line class="l" x1="766" y1="1333" x2="766" y2="1337.5"/><line class="l" x1="878.5" y1="1333" x2="878.5" y2="1337.5"/>
<line class="c" x1="773.7" y1="1075" x2="773.7" y2="1381"/>
<line class="c" x1="871.6" y1="1075" x2="871.6" y2="1381"/>
<line class="c" x1="843.1" y1="1201.1" x2="995.5" y2="1201.1"/>
<line class="e" x1="764" y1="1084.2" x2="788" y2="1084.2"/><line class="e" x1="860" y1="1084.2" x2="886" y2="1084.2"/>
<line class="e" x1="860" y1="1310.1" x2="886" y2="1310.1"/>
<circle class="h" cx="773.7" cy="1084.2" r="3.4"/><circle class="h" cx="871.6" cy="1084.2" r="3.4"/>
<circle class="h" cx="773.7" cy="1310.1" r="3.4"/><circle class="h" cx="871.6" cy="1310.1" r="3.4"/>
<circle class="h" cx="866.9" cy="1201.1" r="2.2"/>
<ellipse cx="792.4" cy="1314.4" rx="6.3" ry="4.2" fill="#ddd" stroke="#111" stroke-width="1.3"/>
<line x1="786" y1="1314.4" x2="798.5" y2="1314.4" stroke="#111" stroke-width=".8"/>
<polyline class="d ae" points="669.7,1030.6 735.3,1030.6 770.4,1080"/>
<text class="u s" x="672" y="1020.6">4×ϕ4.5</text>
<line class="e" x1="715.3" y1="1084.2" x2="788" y2="1084.2"/>
<line class="e" x1="715.3" y1="1310.1" x2="788" y2="1310.1"/>
<line class="e" x1="715.3" y1="1337.5" x2="763.5" y2="1337.5"/>
<line class="e" x1="884" y1="1337.5" x2="998.8" y2="1337.5"/>
<line class="d ab" x1="721.3" y1="1084.4" x2="721.3" y2="1309.9"/>
<text class="u m" transform="translate(711.9,1196.6) rotate(-90)">115</text>
<line class="d ae" x1="721.3" y1="1369.5" x2="721.3" y2="1337.7"/>
<text class="u m" transform="translate(711.9,1359.5) rotate(-90)">14</text>
<line class="d ab" x1="989.9" y1="1201.3" x2="989.9" y2="1337.3"/>
<text class="u m" transform="translate(979.9,1265.5) rotate(-90)">(70)</text>
<line class="d ab" x1="773.9" y1="1374.6" x2="871.4" y2="1374.6"/>
<text class="u m" x="822" y="1364">51</text>

<!-- ===== bottom ===== -->
<text class="s" x="120" y="1462" font-size="14" textLength="561" lengthAdjust="spacingAndGlyphs">*note: These screw holes are used if the sensor is set without any L-shaped angle.</text>
<text class="s" x="272" y="1515" font-size="21" textLength="118" lengthAdjust="spacingAndGlyphs">DTPA-A-5K</text>
<rect x="880" y="1455" width="124" height="64" fill="#e6e6e6"/>
<text class="s" x="885" y="1462.5" font-size="8.5" textLength="69" lengthAdjust="spacingAndGlyphs">Connector plug</text>
<text class="s" x="885" y="1476.2" font-size="6.8" textLength="66" lengthAdjust="spacingAndGlyphs">PRC03-12A10-7M</text>
<rect x="888.2" y="1493.2" width="49.1" height="12.8" fill="url(#gc)"/>
<rect x="937.3" y="1488.5" width="11" height="22" fill="url(#gm)"/>
<circle cx="944.5" cy="1490.5" r="2.6" fill="#ddd" stroke="#555" stroke-width=".5"/>
<circle cx="944.5" cy="1509" r="2.6" fill="#ddd" stroke="#555" stroke-width=".5"/>
<path d="M948.3,1490 L960,1487.5 V1512 L948.3,1509.5 Z" fill="url(#gm)"/>
<rect x="960" y="1486" width="9" height="27" fill="url(#gm)"/>
<rect x="969" y="1487" width="10" height="25" fill="url(#gm)"/>
<rect x="979" y="1486" width="21.6" height="27.2" fill="url(#gm)"/>
</svg>
</body></html>
